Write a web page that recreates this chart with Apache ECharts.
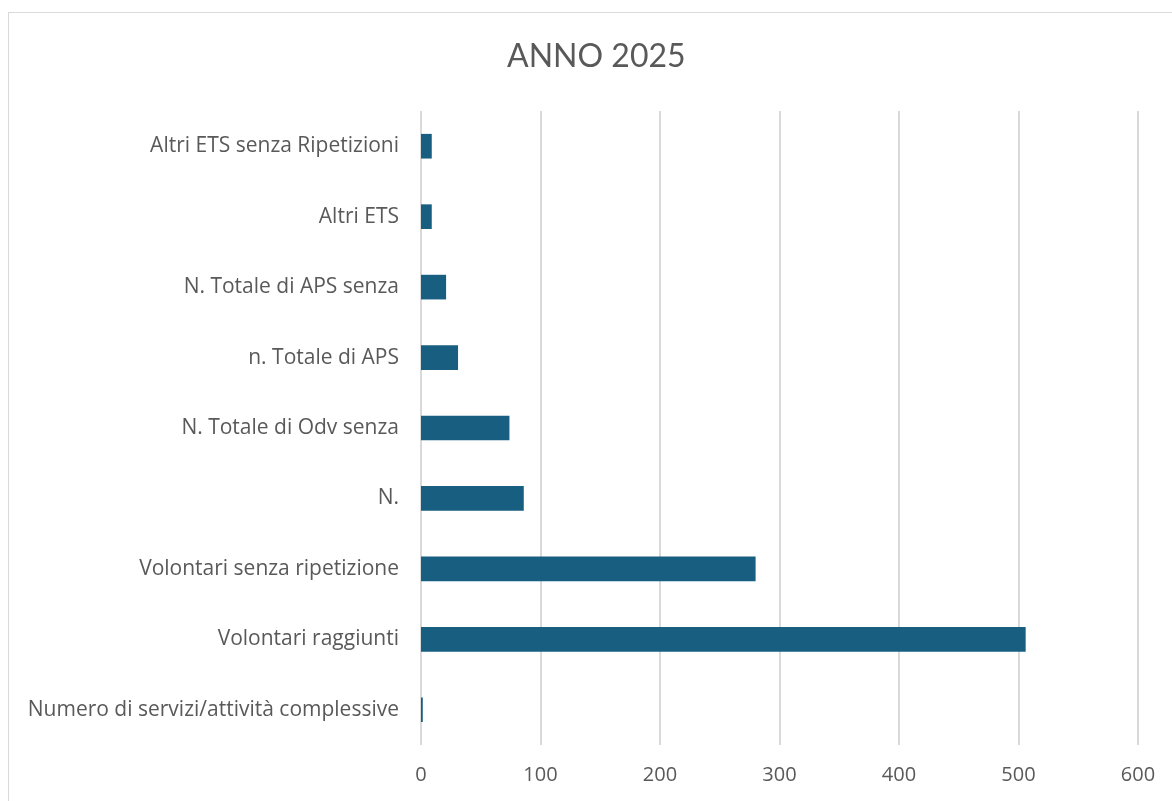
<!DOCTYPE html>
<html>
<head>
<meta charset="utf-8">
<script src="https://cdn.jsdelivr.net/npm/echarts@6/dist/echarts.min.js"></script>
<style>
  html, body { margin: 0; padding: 0; background: #fff; }
  #frame { position: absolute; left: 8px; top: 12px; width: 1180px; height: 800px; border: 1px solid #d9d9d9; box-sizing: border-box; }
  #chart { position: absolute; left: 0; top: 0; width: 1172px; height: 801px; }
</style>
</head>
<body>
<div id="frame"></div>
<div id="chart"></div>
<script type="text/javascript">
  // categorie dal basso verso l'alto
  var categorie = [
    'Numero di servizi/attività complessive',
    'Volontari raggiunti',
    'Volontari senza ripetizione',
    'N.',
    'N. Totale di Odv senza',
    'n. Totale di APS',
    'N. Totale di APS senza',
    'Altri ETS',
    'Altri ETS senza Ripetizioni'
  ];
  var valori = [1.5, 506, 280, 86, 74, 31, 21, 9, 9];
  var tickValori = [0, 100, 200, 300, 400, 500, 600];

  var myChart = echarts.init(document.getElementById('chart'));
  myChart.setOption({
    animation: false,
    title: {
      text: 'ANNO 2025',
      left: 502,
      top: 36,
      textStyle: { fontFamily: 'Lato', fontSize: 32, fontWeight: 'normal', color: '#595959' }
    },
    grid: { left: 421, right: 34, top: 111, bottom: 56 },
    xAxis: {
      type: 'value',
      min: tickValori[0],
      max: tickValori[tickValori.length - 1],
      interval: 100,
      axisLine: { show: false },
      axisTick: { show: false },
      axisLabel: { color: '#595959', fontFamily: 'Open Sans', fontSize: 20, margin: 20 },
      splitLine: { lineStyle: { color: '#d9d9d9', width: 2 } }
    },
    yAxis: {
      type: 'category',
      data: categorie,
      axisLine: { show: false },
      axisTick: { show: false },
      axisLabel: { color: '#595959', fontFamily: 'Open Sans', fontSize: 21, margin: 22, interval: 0 }
    },
    series: [{
      type: 'bar',
      data: valori,
      barWidth: '35%',
      itemStyle: { color: '#175e81' }
    }]
  });
</script>
</body>
</html>
